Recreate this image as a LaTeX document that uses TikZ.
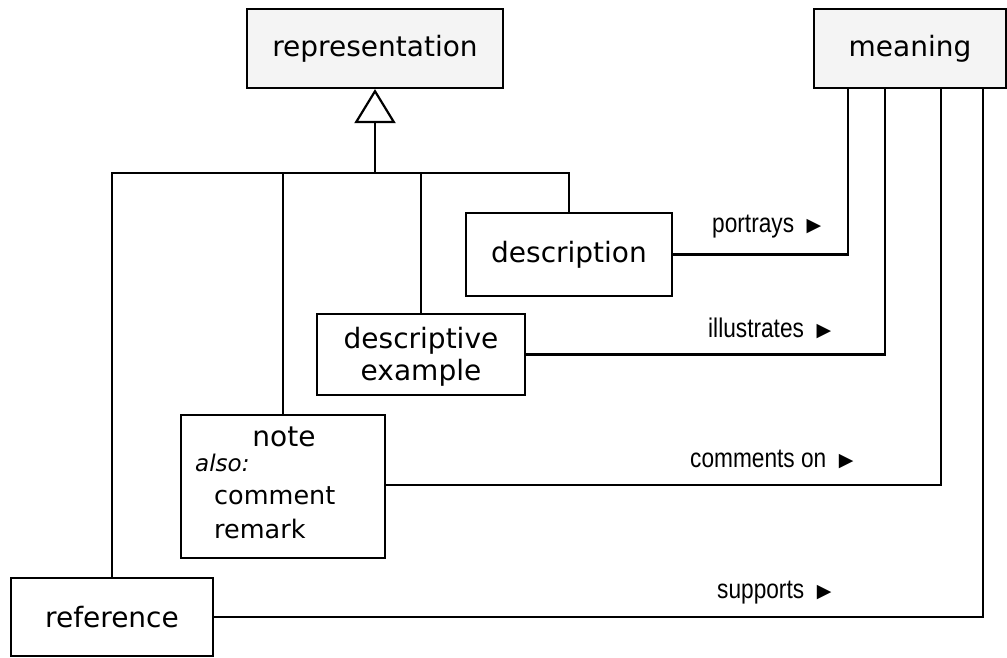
\documentclass[tikz,border=0pt]{standalone}
\usepackage{fontspec}
\setmainfont{DejaVu Sans}
\newfontfamily\labfont[FakeStretch=0.84]{Liberation Sans}
\newfontfamily\symfont{DejaVu Sans}
\usetikzlibrary{arrows.meta}
\definecolor{boxgray}{HTML}{F4F4F4}
\tikzset{
  cls/.style={draw=black, line width=2.2pt, inner sep=0pt, align=center, font=\fontsize{28}{32}\selectfont},
  abst/.style={cls, fill=boxgray},
  conn/.style={draw=black, line width=2.2pt},
  gen/.style={conn, -{Triangle[open, length=34pt, width=41pt, line width=2.2pt]}},
  lab/.style={anchor=west, inner sep=0pt, font=\labfont\fontsize{27}{30}\selectfont},
  txt/.style={inner sep=0pt, align=center, font=\fontsize{28}{32}\selectfont},
  sub/.style={inner sep=0pt, anchor=west, font=\fontsize{25.5}{30}\selectfont}
}
\newcommand{\tri}{{\symfont\fontsize{19}{22}\selectfont\raisebox{1pt}{▶}}}
\begin{document}
\begin{tikzpicture}[x=1pt, y=-1pt]
\useasboundingbox (0,0) rectangle (1007,658);
\node[abst, minimum width=256pt, minimum height=79pt] (representation) at (375,48.5) {representation};
\node[abst, minimum width=192pt, minimum height=79pt] (meaning) at (910,48.5) {meaning};
\node[cls, minimum width=206pt, minimum height=83pt] (description) at (569,254.5) {description};
\node[cls, minimum width=208pt, minimum height=81pt] (descex) at (421,354.5) {};
\node[txt] (descext) at (421,357) {descriptive\\example};
\node[cls, minimum width=204pt, minimum height=143pt] (note) at (283,486.5) {};
\node[txt] (notet) at (284,437) {note};
\node[sub, font=\itshape\fontsize{23}{26}\selectfont] (also) at (195,463) {also:};
\node[sub] (comment) at (214,496) {comment};
\node[sub] (remark) at (214,529) {remark};
\node[cls, minimum width=202pt, minimum height=78pt] (reference) at (112,617) {reference};

\coordinate (bus) at (375,173);
\draw[conn] (reference.north) |- (bus) -| (description.north);
\draw[conn] (note.north) -- (note.north |- bus);
\draw[conn] (descex.north) -- (descex.north |- bus);
\draw[gen] (bus) -- (representation.south);

\draw[conn] (description.east) -| ([xshift=-62pt]meaning.south);
\draw[conn] (descex.east) -| ([xshift=-25pt]meaning.south);
\draw[conn] ([yshift=1.5pt]note.east) -| ([xshift=31pt]meaning.south);
\draw[conn] (reference.east) -| ([xshift=73pt]meaning.south);

\node[lab] (l1) at (712,227) {portrays\ \ \tri};
\node[lab] (l2) at (708,328) {illustrates\ \ \tri};
\node[lab] (l3) at (690,459) {comments on\ \ \tri};
\node[lab] (l4) at (717,593) {supports\ \ \tri};
\end{tikzpicture}
\end{document}
